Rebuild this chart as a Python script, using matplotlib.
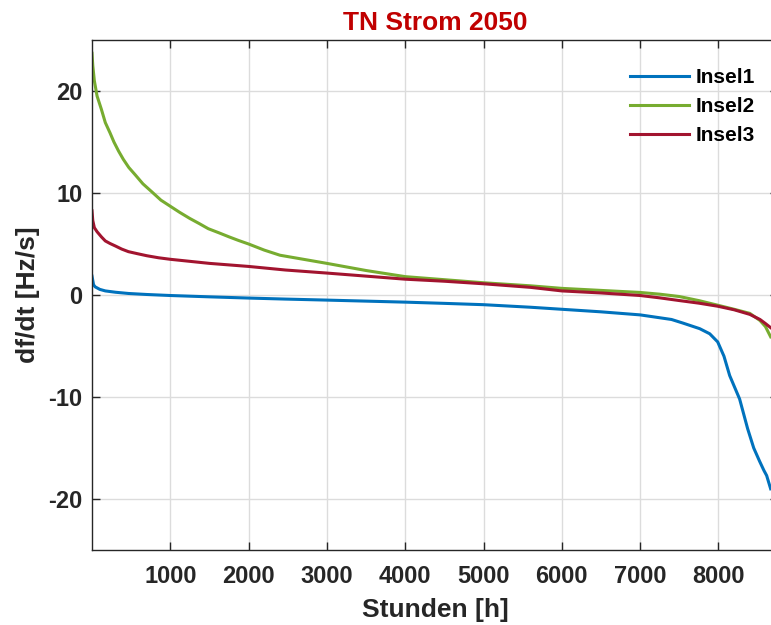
import matplotlib
matplotlib.use("Agg")
import matplotlib.pyplot as plt

plt.rcParams['font.family'] = ['Liberation Sans', 'DejaVu Sans']
plt.rcParams['font.weight'] = 'bold'
plt.rcParams['axes.unicode_minus'] = False

title = "TN Strom 2050"
xlabel = "Stunden [h]"
ylabel = "df/dt [Hz/s]"
series_names = ["Insel1", "Insel2", "Insel3"]
xticks = [1000, 2000, 3000, 4000, 5000, 6000, 7000, 8000]
yticks = [-20, -10, 0, 10, 20]

insel1_h = [0, 20, 40, 100, 170, 300, 465, 700, 1000, 1500, 2000, 2470, 3000, 3500, 4000,
            4500, 5000, 5600, 6000, 6500, 7000, 7400, 7545, 7760, 7888, 7990, 8070, 8143,
            8270, 8372, 8450, 8525, 8580, 8615, 8666]
insel1_v = [1.85, 1.0, 0.8, 0.55, 0.4, 0.27, 0.15, 0.05, -0.05, -0.18, -0.3, -0.4, -0.5, -0.6, -0.7,
            -0.82, -0.95, -1.2, -1.4, -1.65, -1.95, -2.4, -2.75, -3.3, -3.8, -4.6, -6.0, -7.9,
            -10.2, -13.1, -15.0, -16.3, -17.2, -17.7, -19.0]

insel2_h = [0, 10, 30, 65, 120, 170, 230, 280, 340, 400, 470, 550, 650, 766, 880, 1000, 1120,
            1250, 1370, 1485, 1620, 1750, 1870, 2000, 2200, 2400, 2700, 3000, 3250, 3500, 3750,
            4000, 4500, 5000, 5600, 6000, 6500, 7000, 7250, 7500, 7750, 7990, 8200, 8400, 8530,
            8600, 8666]
insel2_v = [23.7, 22.5, 21.0, 19.5, 18.2, 16.9, 15.9, 15.0, 14.1, 13.3, 12.5, 11.8, 10.9, 10.1, 9.3,
            8.7, 8.1, 7.5, 7.0, 6.5, 6.1, 5.7, 5.35, 5.0, 4.4, 3.9, 3.5, 3.1, 2.75, 2.4, 2.1,
            1.8, 1.5, 1.2, 0.9, 0.65, 0.45, 0.25, 0.08, -0.15, -0.55, -1.0, -1.4, -1.8, -2.5,
            -3.1, -4.1]

insel3_h = [0, 10, 30, 65, 120, 170, 230, 300, 380, 465, 580, 700, 850, 1000, 1250, 1500, 2000,
            2470, 3000, 3500, 4000, 4500, 5000, 5600, 6000, 6500, 7000, 7250, 7505, 7750, 7990,
            8200, 8400, 8530, 8600, 8666]
insel3_v = [8.25, 7.3, 6.6, 6.2, 5.7, 5.3, 5.05, 4.8, 4.5, 4.25, 4.05, 3.85, 3.65, 3.5, 3.3, 3.1, 2.8,
            2.45, 2.15, 1.85, 1.55, 1.35, 1.1, 0.75, 0.4, 0.2, -0.05, -0.28, -0.55, -0.8, -1.1,
            -1.45, -1.9, -2.4, -2.8, -3.2]

colors = ["#0072BD", "#77AC30", "#A2142F"]

W, H = 771, 625
fig = plt.figure(figsize=(W / 100, H / 100), dpi=100)
left, right, top, bottom = 92, 778, 40, 550
ax = fig.add_axes([left / W, 1 - bottom / H, (right - left) / W, (bottom - top) / H])

for h, v, c, n in zip([insel1_h, insel2_h, insel3_h], [insel1_v, insel2_v, insel3_v], colors, series_names):
    ax.plot(h, v, color=c, lw=2.2, label=n)

ax.set_xlim(0, 8760)
ax.set_ylim(-25, 25)
ax.set_xticks(xticks)
ax.set_yticks(yticks)
ax.grid(True, color="#DCDCDC", lw=1.0)
ax.set_axisbelow(True)
ax.tick_params(direction='in', top=True, right=True, length=6, width=1.0, labelsize=17, colors='#262626')
ax.tick_params(axis='x', pad=11)
ax.tick_params(axis='y', pad=7)
for lab in ax.get_xticklabels() + ax.get_yticklabels():
    lab.set_fontweight('bold')
for s in ax.spines.values():
    s.set_color('#262626')
    s.set_linewidth(1.0)

ax.set_xlabel(xlabel, fontsize=19, fontweight='bold', color='#262626', labelpad=7)
ax.set_ylabel(ylabel, fontsize=19, fontweight='bold', color='#262626', labelpad=6)
ax.set_title(title, fontsize=19, fontweight='bold', color='#C00000', pad=7)

leg = ax.legend(loc='upper right', bbox_to_anchor=((755 - left) / (right - left), 1 - 28 / (bottom - top)),
                frameon=False, fontsize=15, handlelength=2.86, handletextpad=0.3,
                labelspacing=0.48, borderaxespad=0, borderpad=0)
for t in leg.get_texts():
    t.set_fontweight('bold')

fig.savefig("out.png", dpi=100)
